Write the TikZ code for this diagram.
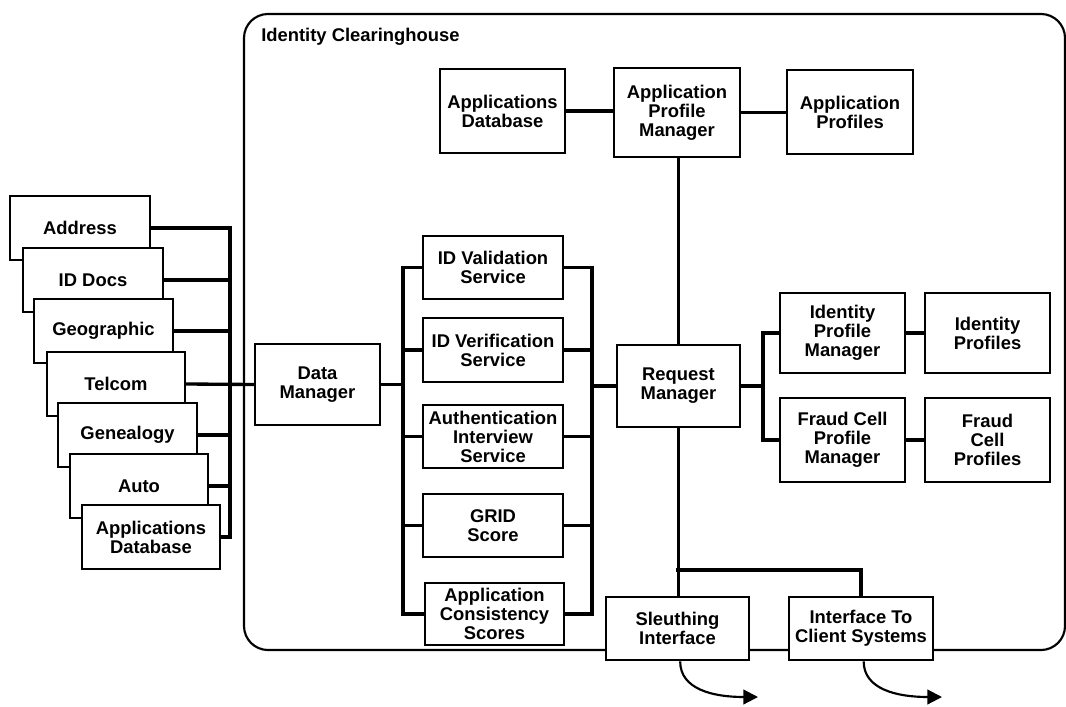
\documentclass[tikz,border=0pt]{standalone}
\usepackage{fontspec}
\setmainfont{Liberation Sans}
\usetikzlibrary{arrows.meta}
\tikzset{
  box/.style={draw, fill=white, line width=2pt, inner sep=0pt, align=center,
    font=\fontsize{13.8}{14.2}\selectfont\bfseries},
  conn/.style={line width=2.5pt, line cap=rect},
  frame/.style={line width=1.6pt, rounded corners=18pt},
  outarrow/.style={line width=1.6pt, -{Triangle[length=11pt,width=11pt]}},
  titlestyle/.style={font=\fontsize{13.8}{14.2}\selectfont\bfseries, inner sep=0pt},
}
% #1 name, #2 x1, #3 y1, #4 x2, #5 y2 (pixels), #6 text
\newcommand{\bx}[6]{%
  \pgfmathsetmacro\myboxw{(#4-#2)*0.75}%
  \pgfmathsetmacro\myboxh{(#5-#3)*0.75}%
  \node[box, minimum width=\myboxw pt, minimum height=\myboxh pt] (#1) at ({(#2+#4)/2},{(#3+#5)/2}) {#6};}
\begin{document}
\begin{tikzpicture}[x=0.75pt,y=-0.75pt]
\useasboundingbox (0,0) rectangle (1066,706);
% container
\draw[frame] (600,650) -- (244,650) -- (244,14) -- (1065,14) -- (1065,650) -- cycle;
\node[titlestyle, anchor=base west] (title) at (261,42) {Identity Clearinghouse};

% left stack of sources
\bx{addr}{10}{196}{150}{260}{Address}
\bx{iddocs}{23}{248}{163}{312}{ID Docs}
\bx{geo}{34}{299}{173}{363}{Geographic}
\bx{telcom}{47}{352}{185}{416}{Telcom}
\bx{genea}{58}{403}{197}{467}{Genealogy}
\bx{auto}{70}{454}{208}{518}{Auto}
\bx{appdb2}{82}{505}{220}{569}{Applications\\Database}

% main boxes
\bx{dm}{255}{344}{380}{425}{Data\\Manager}
\bx{idval}{423}{236}{563}{299}{ID Validation\\Service}
\bx{idver}{423}{318}{563}{382}{ID Verification\\Service}
\bx{auth}{423}{405}{563}{468}{Authentication\\Interview\\Service}
\bx{grid}{423}{494}{563}{557}{GRID\\Score}
\bx{acs}{425}{583}{564}{645}{Application\\Consistency\\Scores}
\bx{rm}{617}{345}{740}{427}{Request\\Manager}
\bx{appdb}{440}{69}{565}{153}{Applications\\Database}
\bx{apm}{614}{68}{740}{157}{Application\\Profile\\Manager}
\bx{approf}{787}{70}{913}{154}{Application\\Profiles}
\bx{ipm}{780}{293}{905}{373}{Identity\\Profile\\Manager}
\bx{ip}{925}{293}{1050}{373}{Identity\\Profiles}
\bx{fcpm}{780}{398}{905}{482}{Fraud Cell\\Profile\\Manager}
\bx{fcp}{925}{398}{1050}{482}{Fraud\\Cell\\Profiles}
\bx{sleuth}{606}{597}{749}{660}{Sleuthing\\Interface}
\bx{iface}{789}{597}{933}{660}{Interface To\\Client Systems}

% bus positions
\coordinate (lb) at (230,0);
\coordinate (sl) at (403,0);
\coordinate (sr) at (592,0);
\coordinate (rb) at (763,0);
\coordinate (br) at (678,570);
\coordinate (o1) at (758,697);
\coordinate (o2) at (942,697);

% left stack bus
\foreach \n in {addr,iddocs,geo,genea,auto,appdb2}
  \draw[conn] (\n.east) -- (\n.east -| lb);
\draw[conn] (addr.east -| lb) -- (appdb2.east -| lb);
\draw[conn] (telcom.east) -- (dm.west);

% services buses
\draw[conn] (dm.east) -- (dm.east -| sl);
\foreach \s in {idval,idver,auth,grid,acs}{
  \draw[conn] (\s.west -| sl) -- (\s.west);
  \draw[conn] (\s.east) -- (\s.east -| sr);
}
\draw[conn] (idval.west -| sl) -- (acs.west -| sl);
\draw[conn] (idval.east -| sr) -- (acs.east -| sr);
\draw[conn] (rm.west) -- (rm.west -| sr);

% top row
\draw[conn] (appdb.east) -- (appdb.east -| apm.west);
\draw[conn] (apm.east) -- (apm.east -| approf.west);
\draw[conn] (rm.north) -- (rm.north |- apm.south);

% right side
\draw[conn] (rm.east) -- (rm.east -| rb);
\draw[conn] (ipm.west) -- (ipm.west -| rb) -- (fcpm.west -| rb) -- (fcpm.west);
\draw[conn] (ipm.east) -- (ip.west);
\draw[conn] (fcpm.east) -- (fcp.west);

% bottom
\draw[conn] (rm.south) -- (rm.south |- sleuth.north);
\draw[conn] (br) -| (iface.north);

% outgoing arrows
\draw[outarrow] ([xshift=2pt]sleuth.south) .. controls +(0,28) and +(-45,0) .. (o1);
\draw[outarrow] ([xshift=2pt]iface.south) .. controls +(0,28) and +(-45,0) .. (o2);
\end{tikzpicture}
\end{document}
